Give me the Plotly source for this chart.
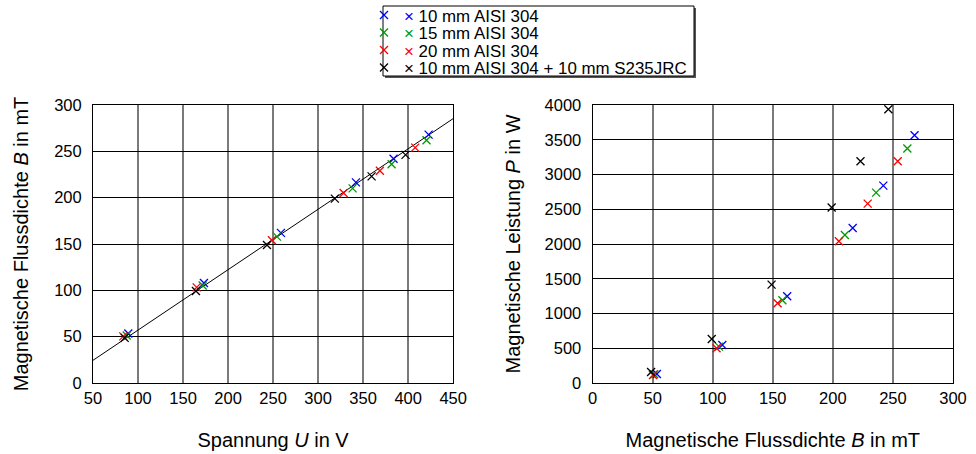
import plotly.graph_objects as go

# ---------------- data ----------------
series_names = ["10 mm AISI 304", "15 mm AISI 304", "20 mm AISI 304",
                "10 mm AISI 304 + 10 mm S235JRC"]
series_colors = ["#0000ff", "#009900", "#ff0000", "#000000"]

U_10 = [89.2, 173.2, 258.7, 342.0, 383.8, 422.7]
B_10 = [53.5, 108.0, 162.0, 216.5, 242.0, 268.0]
P_10 = [130, 547, 1247, 2230, 2840, 3564]

U_15 = [87.4, 171.8, 254.3, 338.3, 381.6, 420.4]
B_15 = [51.3, 105.2, 158.0, 210.0, 236.0, 262.0]
P_15 = [125, 523, 1190, 2130, 2739, 3373]

U_20 = [83.6, 165.1, 248.7, 328.3, 368.6, 407.8]
B_20 = [50.3, 103.2, 154.0, 205.0, 229.0, 254.0]
P_20 = [115, 499, 1147, 2039, 2581, 3190]

U_20s = [85.2, 164.3, 243.2, 318.6, 359.4, 397.1]
B_20s = [48.7, 99.2, 149.0, 199.0, 223.0, 246.2]
P_20s = [158, 633, 1416, 2524, 3190, 3938]

fit_U = [50, 450]
fit_B = [24.5, 285.3]

U_list = [U_10, U_15, U_20, U_20s]
B_list = [B_10, B_15, B_20, B_20s]
P_list = [P_10, P_15, P_20, P_20s]

x1_ticks = [50, 100, 150, 200, 250, 300, 350, 400, 450]
y1_ticks = [0, 50, 100, 150, 200, 250, 300]
x2_ticks = [0, 50, 100, 150, 200, 250, 300]
y2_ticks = [0, 500, 1000, 1500, 2000, 2500, 3000, 3500, 4000]

# ---------------- figure ----------------
W, H = 976, 454
ML, MR, MT, MB = 93, 23, 105, 71
PW, PH = W - ML - MR, H - MT - MB
FONT = "Liberation Sans, Arial, Helvetica, sans-serif"
FS = 16.5
FS_LEG = 16.9

fig = go.Figure()

fig.add_trace(go.Scatter(x=fit_U, y=fit_B, mode="lines",
                         line=dict(color="black", width=1),
                         showlegend=False, hoverinfo="skip",
                         xaxis="x", yaxis="y"))

legend_ids = ["legend", "legend2", "legend3", "legend4"]
for i in range(4):
    c = series_colors[i]
    mk = dict(symbol="x-thin", size=8, color=c, line=dict(color=c, width=1.3))
    fig.add_trace(go.Scatter(
        x=U_list[i], y=B_list[i], mode="markers", marker=mk,
        name=f'<span style="color:{c}">×</span> {series_names[i]}',
        legend=legend_ids[i], xaxis="x", yaxis="y"))
    fig.add_trace(go.Scatter(
        x=B_list[i], y=P_list[i], mode="markers", marker=mk,
        showlegend=False, xaxis="x2", yaxis="y2"))

base = dict(showline=True, mirror=True, linecolor="black", linewidth=1,
            zeroline=False, showgrid=True,
            tickfont=dict(family=FONT, size=FS, color="black"))
xcommon = dict(base, ticks="", gridcolor="#7a7a7a", gridwidth=2)
ycommon = dict(base, ticks="outside", ticklen=7, tickcolor="rgba(0,0,0,0)",
               gridcolor="#000000", gridwidth=1)

fig.update_layout(
    width=W, height=H,
    margin=dict(l=ML, r=MR, t=MT, b=MB, autoexpand=False),
    paper_bgcolor="white", plot_bgcolor="white",
    font=dict(family=FONT, size=FS, color="black"),
    xaxis=dict(domain=[0, 0.4188], range=[50, 450], tickvals=x1_ticks,
               anchor="y",
               title=dict(text="Spannung <i>U</i> in V", standoff=27),
               **xcommon),
    yaxis=dict(domain=[0, 1], range=[0, 300], tickvals=y1_ticks,
               anchor="x",
               title=dict(text="Magnetische Flussdichte <i>B</i> in mT", standoff=20),
               **ycommon),
    xaxis2=dict(domain=[0.5809, 1], range=[0, 300], tickvals=x2_ticks,
                anchor="y2",
                title=dict(text="Magnetische Flussdichte <i>B</i> in mT", standoff=27),
                **xcommon),
    yaxis2=dict(domain=[0, 1], range=[0, 4000], tickvals=y2_ticks,
                anchor="x2",
                title=dict(text="Magnetische Leistung <i>P</i> in W", standoff=18),
                **ycommon),
)

# pixel -> paper helpers (positions only)
def px_x(p):
    return (p - ML) / PW

def px_y(p):
    return (H - MB - p) / PH

# legend frame with shadow
box = (383, 6, 694, 76)
fig.add_shape(type="rect", xref="paper", yref="paper",
              x0=px_x(box[0] + 2), x1=px_x(box[2] + 2),
              y0=px_y(box[3] + 2), y1=px_y(box[1] + 2),
              fillcolor="#555555", line=dict(width=0), layer="above")
fig.add_shape(type="rect", xref="paper", yref="paper",
              x0=px_x(box[0]), x1=px_x(box[2]),
              y0=px_y(box[3]), y1=px_y(box[1]),
              fillcolor="white", line=dict(color="black", width=1), layer="above")

row_y = [15, 32.5, 50, 67.5]
for i, lid in enumerate(legend_ids):
    fig.update_layout({lid: dict(
        xref="paper", yref="paper",
        x=px_x(364), y=px_y(row_y[i]),
        xanchor="left", yanchor="middle",
        bgcolor="rgba(0,0,0,0)", borderwidth=0,
        font=dict(family=FONT, size=FS_LEG, color="black"),
        itemwidth=30)})

fig.write_html("out.html", config={"displayModeBar": False},
               post_script="document.body.style.margin='0';document.body.style.padding='0';")
